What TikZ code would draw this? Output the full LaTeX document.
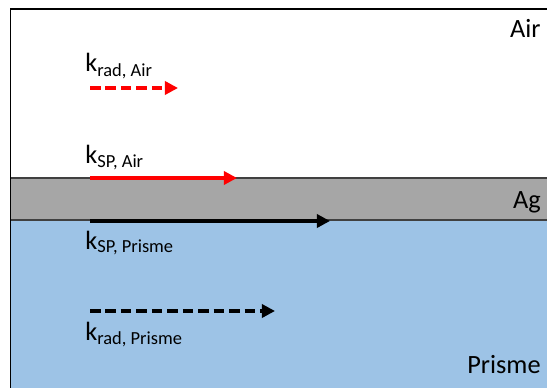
\documentclass[tikz,border=0pt]{standalone}
\usepackage{fontspec}
\setmainfont{Carlito}
\usepackage{tikz}
\usetikzlibrary{arrows.meta}
\definecolor{airfill}{HTML}{FFFFFF}
\definecolor{agfill}{HTML}{A6A6A6}
\definecolor{prismfill}{HTML}{9DC3E6}
\definecolor{edgestroke}{HTML}{404040}
\definecolor{radred}{HTML}{FF0000}
\tikzset{
  layerlabel/.style={anchor=base east, inner sep=0pt,
                     font=\fontsize{15}{18}\selectfont},
  klabel/.style={anchor=base west, inner sep=0pt,
                 font=\fontsize{15}{18}\selectfont},
  sparrow/.style={-{Triangle[length=7.5pt,width=7.5pt]}, line width=2.3pt},
  radarrow/.style={sparrow, dash pattern=on 6pt off 2.8pt},
  interface/.style={draw=edgestroke, line width=1.1pt}
}

\begin{document}
\begin{tikzpicture}[x=0.02cm, y=-0.02cm]

  % ===== Frame and layers =====
  \useasboundingbox (0,0) rectangle (547,388);
  \clip (0,0) rectangle (547,388);
  \fill[airfill]   (10.5,9)   rectangle (560,178);
  \fill[agfill]    (10.5,178) rectangle (560,220);
  \fill[prismfill] (10.5,220) rectangle (560,400);
  \draw[interface] (10.5,178) -- (560,178);
  \draw[interface] (10.5,220) -- (560,220);
  \draw[black, line width=1.1pt] (10.5,9) rectangle (560,400);

  % Layer names
  \node[layerlabel] (air)    at (541,38)  {Air};
  \node[layerlabel] (ag)     at (541,208) {Ag};
  \node[layerlabel] (prisme) at (541,373) {Prisme};

  % ===== Wave vectors =====
  \node[klabel] (k-rad-air)    at (85,72)  {k\textsubscript{rad, Air}};
  \node[klabel] (k-sp-air)     at (85,164) {k\textsubscript{SP, Air}};
  \node[klabel] (k-sp-prisme)  at (85,249) {k\textsubscript{SP, Prisme}};
  \node[klabel] (k-rad-prisme) at (85,340) {k\textsubscript{rad, Prisme}};

  \coordinate (rad-air-s)    at (90,88);
  \coordinate (rad-air-e)    at (178,88);
  \coordinate (sp-air-s)     at (90,178);
  \coordinate (sp-air-e)     at (237,178);
  \coordinate (sp-prisme-s)  at (90,221);
  \coordinate (sp-prisme-e)  at (330,221);
  \coordinate (rad-prisme-s) at (90,311);
  \coordinate (rad-prisme-e) at (275,311);

  \draw[radarrow, radred] (rad-air-s) -- (rad-air-e);
  \draw[sparrow, radred]  (sp-air-s) -- (sp-air-e);
  \draw[sparrow, black]   (sp-prisme-s) -- (sp-prisme-e);
  \draw[radarrow, black]  (rad-prisme-s) -- (rad-prisme-e);

\end{tikzpicture}
\end{document}
